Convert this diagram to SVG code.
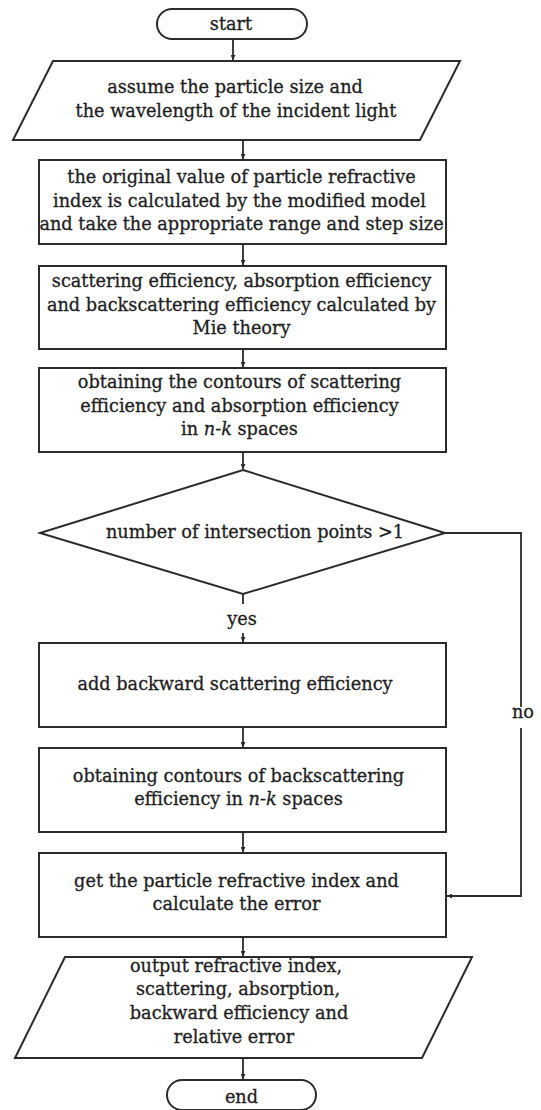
<svg xmlns="http://www.w3.org/2000/svg" width="541" height="1110" viewBox="0 0 541 1110">
<defs>
<style>
.s{fill:#fff;stroke:#2b2b2b;stroke-width:2}
.c{fill:none;stroke:#2b2b2b;stroke-width:1.8}
text{font-family:"DejaVu Serif","Liberation Serif",serif;font-size:17.7px;fill:#1e1e1e;stroke:#1e1e1e;stroke-width:0.3;text-anchor:middle}
.i{font-style:italic}
</style>
<marker id="ah" viewBox="0 0 10 10" refX="10" refY="5" markerWidth="5" markerHeight="5" markerUnits="userSpaceOnUse" orient="auto">
<path d="M0,0 L10,5 L0,10 z" fill="#2b2b2b"/>
</marker>
</defs>
<rect width="541" height="1110" fill="#fff"/>
<g id="connectors">
<line class="c" x1="233" y1="39" x2="233" y2="60" marker-end="url(#ah)"/>
<line class="c" x1="243" y1="140" x2="243" y2="159" marker-end="url(#ah)"/>
<line class="c" x1="243" y1="244" x2="243" y2="265" marker-end="url(#ah)"/>
<line class="c" x1="243" y1="349" x2="243" y2="367" marker-end="url(#ah)"/>
<line class="c" x1="243" y1="452" x2="243" y2="469" marker-end="url(#ah)"/>
<line class="c" x1="243" y1="594" x2="243" y2="604"/>
<line class="c" x1="243" y1="633" x2="243" y2="642" marker-end="url(#ah)"/>
<line class="c" x1="243" y1="727" x2="243" y2="747" marker-end="url(#ah)"/>
<line class="c" x1="243" y1="832" x2="243" y2="852" marker-end="url(#ah)"/>
<line class="c" x1="243" y1="937" x2="243" y2="956" marker-end="url(#ah)"/>
<line class="c" x1="243" y1="1058" x2="243" y2="1079" marker-end="url(#ah)"/>
<polyline class="c" points="445,533 521,533 521,707"/>
<polyline class="c" points="521,728 521,896 447,896" marker-end="url(#ah)"/>
<text x="242" y="625">yes</text>
<text x="523" y="718">no</text>
</g>
<g id="start">
<rect class="s" x="157" y="9" width="150" height="30" rx="15" ry="15"/>
<text x="231" y="30">start</text>
</g>
<g id="input">
<polygon class="s" points="53,61 460,61 420,140 13,140"/>
<text x="235" y="93">assume the particle size and</text>
<text x="236" y="117">the wavelength of the incident light</text>
</g>
<g id="initial">
<rect class="s" x="39" y="160" width="407" height="84"/>
<text x="241.5" y="183">the original value of particle refractive</text>
<text x="239.5" y="207">index is calculated by the modified model</text>
<text x="241.5" y="230">and take the appropriate range and step size</text>
</g>
<g id="mie">
<rect class="s" x="39" y="266" width="407" height="83"/>
<text x="241.5" y="287">scattering efficiency, absorption efficiency</text>
<text x="241.5" y="311">and backscattering efficiency calculated by</text>
<text x="241.5" y="334">Mie theory</text>
</g>
<g id="contours">
<rect class="s" x="39" y="368" width="407" height="84"/>
<text x="239.5" y="388">obtaining the contours of scattering</text>
<text x="239.5" y="412">efficiency and absorption efficiency</text>
<text x="239.5" y="435">in <tspan class="i">n-k</tspan> spaces</text>
</g>
<g id="decision">
<polygon class="s" points="243,470 445,533 243,594 40,533"/>
<text x="255" y="538">number of intersection points &gt;1</text>
</g>
<g id="addback">
<rect class="s" x="39" y="643" width="407" height="84"/>
<text x="235" y="690">add backward scattering efficiency</text>
</g>
<g id="backcontours">
<rect class="s" x="39" y="748" width="407" height="84"/>
<text x="238.5" y="782">obtaining contours of backscattering</text>
<text x="238.5" y="805">efficiency in <tspan class="i">n-k</tspan> spaces</text>
</g>
<g id="result">
<rect class="s" x="39" y="853" width="407" height="84"/>
<text x="236.5" y="887">get the particle refractive index and</text>
<text x="236.5" y="910">calculate the error</text>
</g>
<g id="output">
<polygon class="s" points="65,957 472,957 422,1058 15,1058"/>
<text x="236" y="972">output refractive index,</text>
<text x="238" y="995">scattering, absorption,</text>
<text x="239" y="1019">backward efficiency and</text>
<text x="234" y="1043">relative error</text>
</g>
<g id="end">
<rect class="s" x="167" y="1080" width="149" height="30" rx="15" ry="15"/>
<text x="241.5" y="1103">end</text>
</g>
</svg>
